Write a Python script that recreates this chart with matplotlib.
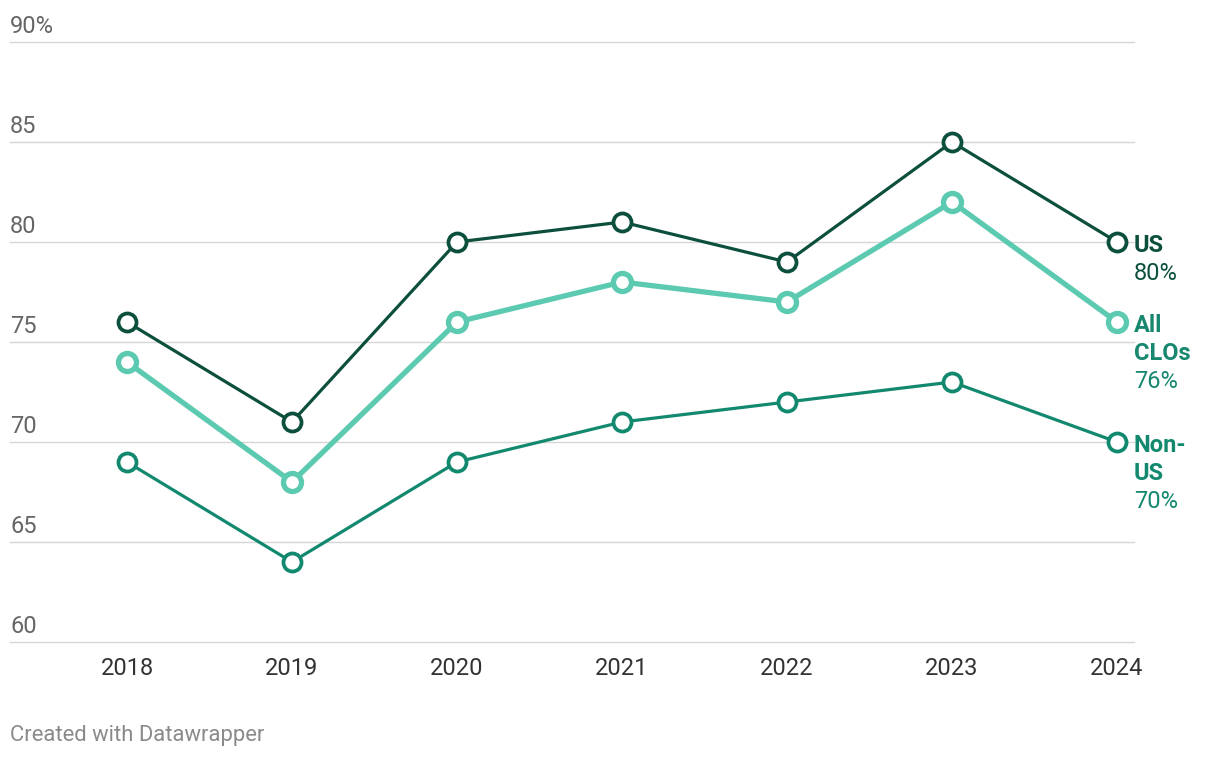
import matplotlib
matplotlib.use("Agg")
import matplotlib.pyplot as plt
from matplotlib import transforms

plt.rcParams['font.family'] = ['Roboto', 'DejaVu Sans']

# %% Data
years = [2018, 2019, 2020, 2021, 2022, 2023, 2024]
us = [76, 71, 80, 81, 79, 85, 80]
all_clos = [74, 68, 76, 78, 77, 82, 76]
non_us = [69, 64, 69, 71, 72, 73, 70]

y_ticks = [60, 65, 70, 75, 80, 85, 90]
y_tick_labels = ["60", "65", "70", "75", "80", "85", "90%"]

series = [
    # values, line colour, label colour, line width, label lines
    (non_us, "#12896f", "#12896f", 2.3, ["Non-", "US", "70%"]),
    (all_clos, "#5ccab0", "#17876f", 3.8, ["All", "CLOs", "76%"]),
    (us, "#0c4f3d", "#0c4f3d", 2.3, ["US", "80%"]),
]

# %% Plot
W, H = 1220, 758
fig = plt.figure(figsize=(W / 100, H / 100), dpi=100)
ax = fig.add_axes([10 / W, 1 - 642 / H, (1134 - 10) / W, (642 - 42) / H])

ax.set_xlim(2018 - 117 / 165, 2024 + 17 / 165)
ax.set_ylim(60, 90)

for vals, col, lab_col, lw, lines in series:
    ax.plot(years, vals, color=col, lw=lw, zorder=3, clip_on=False)
    ax.plot(years, vals, ls="none", marker="o", ms=13, mfc="white", mec=col,
            mew=lw + 0.4 if lw < 3 else lw, zorder=4, clip_on=False)
    for i, txt in enumerate(lines):
        bold = not txt.endswith("%")
        ax.annotate(txt, xy=(years[-1], vals[-1]), xytext=(12.2, -(3 + 28 * i) * 0.72),
                    textcoords="offset points", ha="left", va="center",
                    fontsize=17, color=lab_col,
                    fontweight="bold" if bold else "normal", annotation_clip=False)

# gridlines and y labels
for t in y_ticks:
    ax.axhline(t, color="#d6d6d6", lw=1.0, zorder=1, clip_on=False)
trans = transforms.blended_transform_factory(ax.transAxes, ax.transData)
for t, lab in zip(y_ticks, y_tick_labels):
    ax.annotate(lab, xy=(0, t), xycoords=trans, xytext=(0, 6.5),
                textcoords="offset points", ha="left", va="baseline",
                fontsize=17, color="#666666", annotation_clip=False)

ax.set_yticks([])
ax.set_xticks(years)
ax.set_xticklabels([str(y) for y in years], fontsize=17, color="#333333")
ax.tick_params(axis="x", length=0, pad=11)
for s in ax.spines.values():
    s.set_visible(False)

fig.text(10 / W, 1 - 735 / H, "Created with Datawrapper", ha="left", va="center",
         fontsize=15.8, color="#8a8a8a")

fig.savefig("out.png", dpi=100)
